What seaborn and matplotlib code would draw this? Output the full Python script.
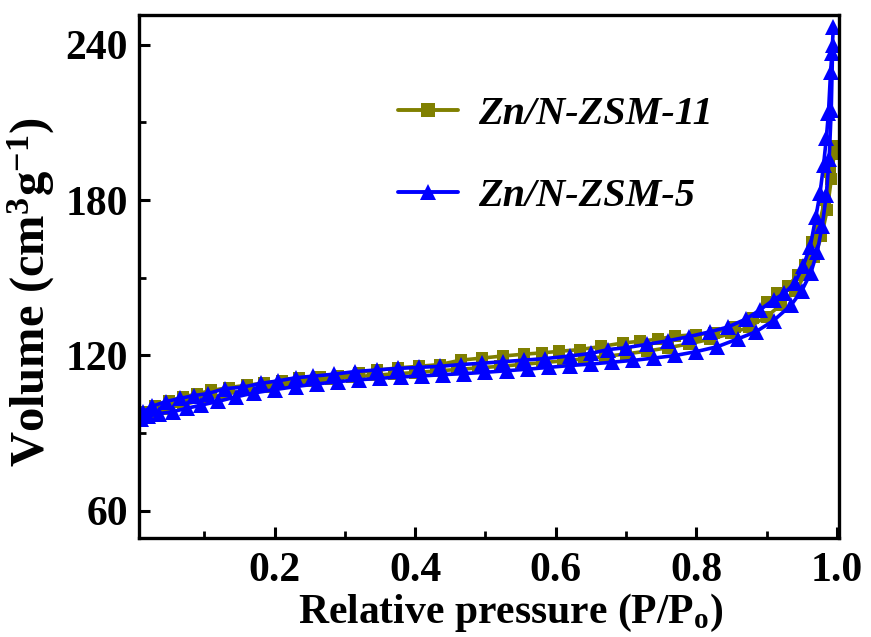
import numpy as np
import pandas as pd
import seaborn as sns
import matplotlib
matplotlib.use("Agg")
import matplotlib.pyplot as plt
from matplotlib.ticker import MultipleLocator
from matplotlib.lines import Line2D

# ---------------- data ----------------
samples = ["Zn/N-ZSM-11", "Zn/N-ZSM-5"]
colors = ["#808000", "#0000FF"]

# Zn/N-ZSM-11 (olive, squares)
p11_ads = [0.01, 0.025, 0.045, 0.07, 0.10, 0.13, 0.16, 0.19, 0.22, 0.25, 0.28, 0.31, 0.34, 0.37,
           0.40, 0.43, 0.46, 0.49, 0.52, 0.55, 0.58, 0.61, 0.64, 0.67, 0.70, 0.73, 0.76, 0.79,
           0.82, 0.85, 0.875, 0.90, 0.92, 0.94, 0.955, 0.968, 0.978, 0.986, 0.992, 0.996]
v11_ads = [96.5, 98, 99.5, 101, 103, 105, 106.6, 108, 109.2, 110.2, 111, 111.7, 112.3, 112.9,
           113.4, 114, 114.6, 115.2, 115.8, 116.5, 117.2, 117.9, 118.7, 119.6, 120.6, 121.7, 123, 124.5,
           126.3, 128.5, 131, 135, 139.5, 145, 151, 158, 166, 176, 188, 198]
p11_des = [0.998, 0.99, 0.983, 0.975, 0.965, 0.955, 0.945, 0.93, 0.915, 0.90, 0.88, 0.855, 0.825,
           0.80, 0.77, 0.745, 0.72, 0.695, 0.665, 0.635, 0.605, 0.58, 0.555, 0.525, 0.495, 0.465,
           0.435, 0.405, 0.375, 0.345, 0.32, 0.29, 0.265, 0.235, 0.21, 0.185, 0.16, 0.135, 0.11,
           0.09, 0.07, 0.05, 0.03, 0.015]
v11_des = [201, 191, 180, 171, 164, 155, 151, 147, 144, 140.5, 134.5, 131, 128.8,
           128, 127.5, 126.3, 125.5, 124.8, 123.5, 122.3, 121.6, 121, 120.5, 119.8, 119.0, 118.2,
           116.5, 115.8, 115.2, 114.3, 113.4, 112, 111.5, 111.2, 110.3, 109.3, 108.5, 107.6, 106.5,
           105.2, 104, 102.5, 100.5, 98.3]

# Zn/N-ZSM-5 (blue, triangles)
p5_ads = [0.010, 0.020, 0.035, 0.055, 0.075, 0.095, 0.12, 0.145, 0.17, 0.20, 0.23, 0.26, 0.29,
          0.32, 0.35, 0.38, 0.41, 0.44, 0.47, 0.50, 0.53, 0.56, 0.59, 0.62, 0.65, 0.68, 0.71,
          0.74, 0.77, 0.80, 0.83, 0.86, 0.885, 0.91, 0.935, 0.95, 0.963, 0.972, 0.979, 0.985,
          0.989, 0.992, 0.994]
v5_ads = [95.5, 96.5, 97.5, 98.3, 99.6, 100.8, 102.3, 104.0, 105.5, 106.8, 108.0, 109.0, 109.9,
          110.6, 111.2, 111.7, 112.1, 112.6, 113.0, 113.5, 114.1, 114.7, 115.4, 116.1, 116.7, 117.4, 118.1,
          119.0, 120.0, 121.5, 123.4, 126.5, 129.2, 133.5, 139.5, 145, 152, 160, 170, 182,
          196, 215, 240]
p5_des = [0.995, 0.993, 0.991, 0.988, 0.985, 0.981, 0.976, 0.970, 0.962, 0.952, 0.94, 0.925, 0.91,
          0.89, 0.87, 0.845, 0.82, 0.79, 0.76, 0.73, 0.70, 0.675, 0.65, 0.62, 0.585, 0.555, 0.525,
          0.495, 0.465, 0.435, 0.405, 0.375, 0.345, 0.315, 0.285, 0.255, 0.23, 0.205, 0.18, 0.155,
          0.13, 0.105, 0.085, 0.065, 0.045, 0.025, 0.012]
v5_des = [247, 237, 229.5, 213.7, 204, 193.5, 182.7, 173.4, 162, 154.5, 148, 144, 141.5,
          137.5, 134, 131, 129.2, 127.3, 125.7, 124.3, 123, 122.3, 120.8, 119.8, 118.8, 118.2, 117.6,
          117, 116.5, 115.8, 115.4, 115, 114.4, 113.8, 112.8, 112, 111.4, 110.2, 109.2, 107.8,
          107.2, 105.3, 104.5, 103.4, 102.2, 100.3, 98]

x_ticks = [0.2, 0.4, 0.6, 0.8, 1.0]
y_ticks = [60, 120, 180, 240]

# ---------------- frame ----------------
frames = []
for s, b, p, v in [(samples[0], "ads", p11_ads, v11_ads), (samples[0], "des", p11_des, v11_des),
                   (samples[1], "ads", p5_ads, v5_ads), (samples[1], "des", p5_des, v5_des)]:
    frames.append(pd.DataFrame({"P": p, "V": v, "sample": s, "branch": b}))
df = pd.concat(frames, ignore_index=True)

sns.set_theme(style="ticks")
plt.rcParams["font.family"] = ["Liberation Serif", "DejaVu Serif"]
plt.rcParams["font.weight"] = "bold"
plt.rcParams["mathtext.fontset"] = "custom"
plt.rcParams["mathtext.rm"] = "Liberation Serif:bold"
plt.rcParams["mathtext.bf"] = "Liberation Serif:bold"
plt.rcParams["mathtext.it"] = "Liberation Serif:bold:italic"
plt.rcParams["mathtext.default"] = "rm"
for k in ["text.color", "axes.labelcolor", "xtick.color", "ytick.color", "axes.edgecolor"]:
    plt.rcParams[k] = "black"

fig = plt.figure(figsize=(8.71, 6.37), dpi=100)
ax = fig.add_axes([139 / 871, 1 - 538 / 637, 700 / 871, 523 / 637])

palette = dict(zip(samples, colors))
sns.lineplot(data=df, x="P", y="V", hue="sample", style="sample", units="branch",
             estimator=None, sort=False, hue_order=samples, style_order=samples,
             palette=palette, markers={samples[0]: "s", samples[1]: "^"}, dashes=False,
             linewidth=2.6, markersize=9, markeredgewidth=0, legend=False, ax=ax)

for ln in ax.lines:
    if ln.get_marker() == "s":
        ln.set_markersize(9)
    elif ln.get_marker() == "^":
        ln.set_markersize(11)

ax.set_xlim(0.007, 1.003)
ax.set_ylim(49.5, 251.5)
ax.set_xticks(x_ticks)
ax.set_yticks(y_ticks)
ax.xaxis.set_minor_locator(MultipleLocator(0.1))
ax.yaxis.set_minor_locator(MultipleLocator(30))
ax.set_xticklabels([f"{t:.1f}" for t in x_ticks])
ax.set_yticklabels([str(t) for t in y_ticks])

for sp in ax.spines.values():
    sp.set_linewidth(2.4)
    sp.set_color("black")
    sp.set_visible(True)

ax.tick_params(which="major", direction="in", length=8, width=2.2, top=False, right=False,
               labelsize=30, colors="black")
ax.tick_params(axis="x", which="major", pad=10)
ax.tick_params(axis="y", which="major", pad=8)
ax.tick_params(which="minor", direction="in", length=5, width=2, top=False, right=False)
for lab in ax.get_xticklabels() + ax.get_yticklabels():
    lab.set_fontweight("bold")

ax.set_xlabel(r"Relative pressure $\mathregular{(P/P_o)}$", fontsize=30, fontweight="bold")
ax.set_ylabel(r"Volume (cm$^{3}$g$^{-1}$)", fontsize=35, fontweight="bold")
ax.xaxis.set_label_coords(0.531, -0.104)
ax.yaxis.set_label_coords(-0.117, 0.47)

handles = [Line2D([], [], color=colors[0], marker="s", lw=2.8, ms=10, mew=0),
           Line2D([], [], color=colors[1], marker="^", lw=2.8, ms=12, mew=0)]
ax.legend(handles, samples, loc="upper left", bbox_to_anchor=(0.37, 0.845), frameon=False,
          prop={"family": "Liberation Serif", "weight": "bold", "style": "italic", "size": 29},
          handlelength=1.5, handletextpad=0.5, labelspacing=1.1, borderpad=0, borderaxespad=0)

fig.savefig("out.png", dpi=100)
